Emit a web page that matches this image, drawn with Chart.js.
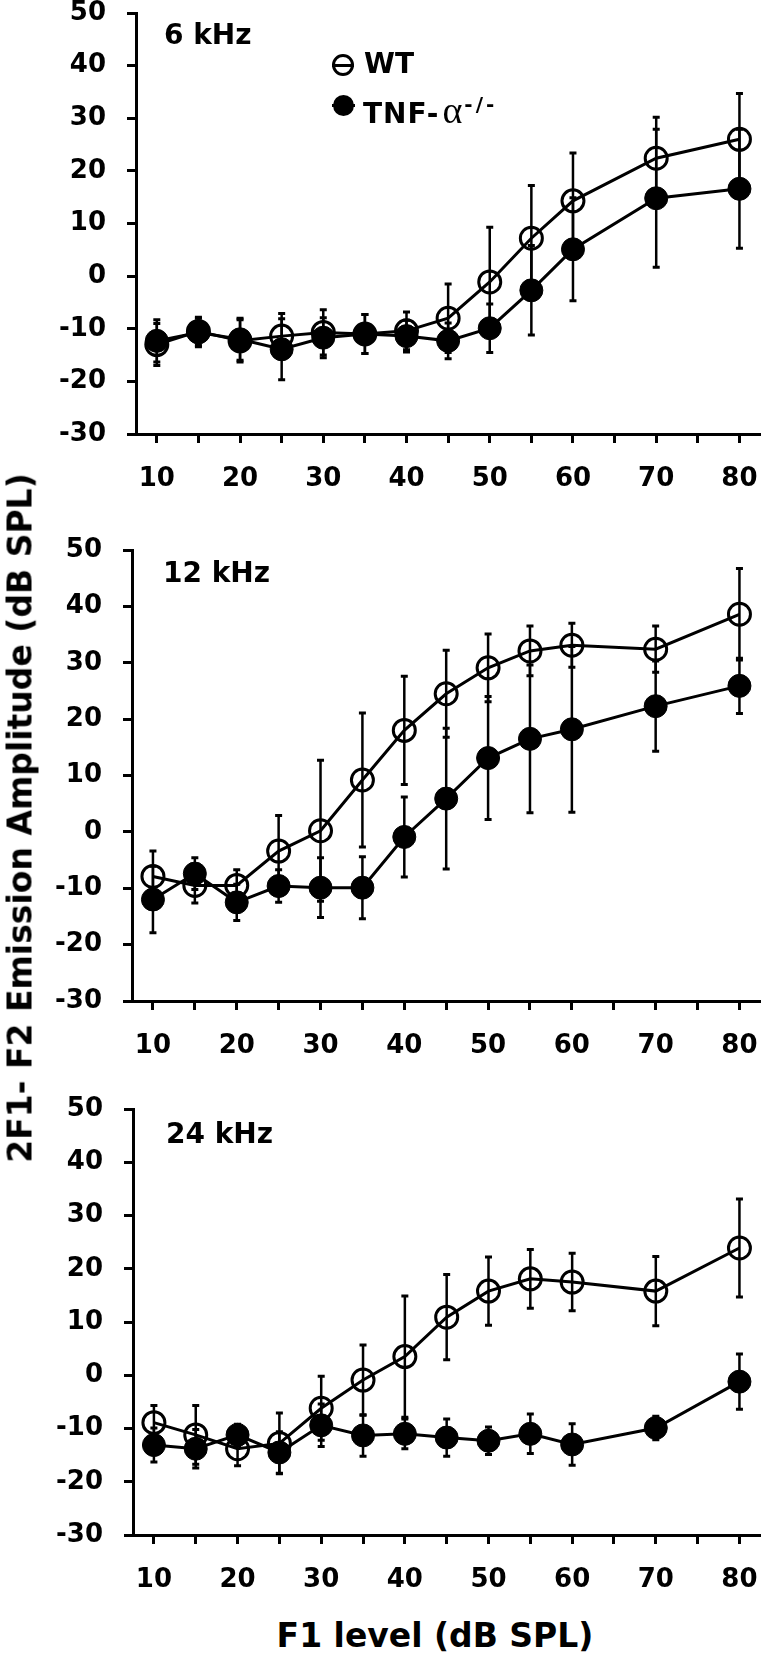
<!DOCTYPE html>
<html><head><meta charset="utf-8">
<script src="https://cdn.jsdelivr.net/npm/chart.js@4.4.1/dist/chart.umd.min.js"></script>
<style>
html,body{margin:0;padding:0;background:#fff;width:779px;height:1661px;overflow:hidden;position:relative;}
canvas{position:absolute;left:0;}
.t{position:absolute;font-family:'DejaVu Sans';font-weight:bold;color:#000;white-space:nowrap;line-height:1;}
.mk{position:absolute;box-sizing:border-box;border-radius:50%;}
.ln{position:absolute;background:#000;height:3px;}
</style></head><body>

<div class="t" style="left:164px;top:21px;font-size:28px">6 kHz</div>
<div class="t" style="left:163px;top:559px;font-size:28px">12 kHz</div>
<div class="t" style="left:166px;top:1120px;font-size:28px">24 kHz</div>

<div class="mk" style="left:332px;top:54px;width:22px;height:22px;border:3px solid #000;"></div>
<div class="ln" style="left:332px;top:64px;width:22px;"></div>
<div class="mk" style="left:333px;top:95px;width:21px;height:21px;background:#000;"></div>
<div class="ln" style="left:332px;top:104px;width:23px;"></div>
<div class="t" style="left:364px;top:50px;font-size:28px">WT</div>
<div class="t" style="left:363px;top:91px;font-size:28px;letter-spacing:1px">TNF-<span style="font-family:'Liberation Serif';font-weight:normal;font-size:38px;margin-left:3px;letter-spacing:0">α</span><span style="font-size:20px;letter-spacing:3px;position:relative;top:-12px;margin-left:2px">-/-</span></div>

<div class="t" style="left:20px;top:818px;font-size:33px;transform:translate(-50%,-50%) rotate(-90deg);">2F1- F2 Emission Amplitude (dB SPL)</div>
<div class="t" style="left:435px;top:1619px;font-size:33px;transform:translateX(-50%);">F1 level (dB SPL)</div>

<script>
// F1 level (dB SPL)
const levels = [10, 15, 20, 25, 30, 35, 40, 45, 50, 55, 60, 70, 80];
const xTicks = [10, 15, 20, 25, 30, 35, 40, 45, 50, 55, 60, 65, 70, 75, 80];
const yTicks = [-30, -20, -10, 0, 10, 20, 30, 40, 50];

// 6 kHz
const wt6     = [-13.0, -10.5, -12.3, -11.4, -10.7, -11.0, -10.4, -8.0, -1.1, 7.2, 14.3, 22.4, 26.0];
const wt6Err  = [4.0, 2.7, 4.0, 4.3, 4.3, 3.7, 3.6, 6.5, 10.4, 10.0, 9.1, 7.8, 8.7];
const tnf6    = [-12.3, -10.7, -12.0, -13.9, -11.7, -11.0, -11.4, -12.3, -9.9, -2.7, 5.1, 14.8, 16.6];
const tnf6Err = [4.0, 2.7, 4.0, 5.8, 3.8, 3.7, 3.0, 3.4, 4.6, 8.5, 9.8, 13.1, 11.3];

// 12 kHz
const wt12     = [-7.9, -9.5, -9.5, -3.4, 0.2, 9.2, 18.0, 24.5, 29.1, 32.1, 33.1, 32.4, 38.6];
const wt12Err  = [4.5, 3.1, 2.8, 6.3, 12.5, 11.9, 9.6, 7.7, 6.0, 4.4, 3.9, 4.1, 8.1];
const tnf12    = [-12.0, -7.4, -12.5, -9.6, -9.9, -9.9, -0.9, 5.9, 13.1, 16.5, 18.2, 22.3, 25.9];
const tnf12Err = [5.9, 2.8, 3.2, 2.9, 5.3, 5.5, 7.1, 12.5, 10.9, 13.1, 14.7, 8.0, 4.9];

// 24 kHz
const wt24     = [-8.9, -11.2, -13.8, -12.8, -6.2, -0.9, 3.5, 10.9, 15.8, 18.1, 17.5, 15.8, 23.9];
const wt24Err  = [3.2, 5.5, 3.2, 5.7, 6.0, 6.6, 11.4, 8.0, 6.4, 5.5, 5.4, 6.5, 9.2];
const tnf24    = [-13.1, -13.8, -11.2, -14.5, -9.4, -11.3, -11.0, -11.7, -12.3, -11.0, -13.0, -9.9, -1.2];
const tnf24Err = [3.2, 3.6, 2.0, 3.9, 4.0, 3.9, 2.8, 3.5, 2.6, 3.7, 3.9, 2.2, 5.2];

const panels = [
  {top: 13,   bottom: 434,  left: 136, wt: wt6,  wtErr: wt6Err,  tnf: tnf6,  tnfErr: tnf6Err},
  {top: 550,  bottom: 1001, left: 132, wt: wt12, wtErr: wt12Err, tnf: tnf12, tnfErr: tnf12Err},
  {top: 1109, bottom: 1535, left: 133, wt: wt24, wtErr: wt24Err, tnf: tnf24, tnfErr: tnf24Err}
];

const errPlugin = {
  id: 'errbars',
  beforeDatasetsDraw(chart) {
    const ctx = chart.ctx, xs = chart.scales.x, ys = chart.scales.y;
    ctx.save();
    ctx.strokeStyle = '#000';
    chart.data.datasets.forEach(ds => {
      ds.data.forEach((pt, i) => {
        const e = ds.err[i];
        const x = xs.getPixelForValue(pt.x);
        const y1 = ys.getPixelForValue(pt.y + e);
        const y2 = ys.getPixelForValue(pt.y - e);
        ctx.lineWidth = 2.5;
        ctx.beginPath(); ctx.moveTo(x, y1); ctx.lineTo(x, y2); ctx.stroke();
        ctx.lineWidth = 3;
        ctx.beginPath();
        ctx.moveTo(x - 3.5, y1); ctx.lineTo(x + 3.5, y1);
        ctx.moveTo(x - 3.5, y2); ctx.lineTo(x + 3.5, y2);
        ctx.stroke();
      });
    });
    ctx.restore();
  }
};

const tickFont = {family: 'DejaVu Sans', weight: 'bold', size: 26};

panels.forEach(p => {
  const pad = 40, xh = 70;
  const cv = document.createElement('canvas');
  cv.width = 779;
  cv.height = pad + (p.bottom - p.top) + xh;
  cv.style.top = (p.top - pad) + 'px';
  document.body.insertBefore(cv, document.body.firstChild);
  const axisCommon = {
    grid: {drawOnChartArea: false, drawTicks: true, tickLength: 9, tickWidth: 3, tickColor: '#000'},
    border: {display: true, color: '#000', width: 3}
  };
  new Chart(cv, {
    type: 'line',
    data: {
      datasets: [
        {label: 'WT', data: levels.map((x, i) => ({x, y: p.wt[i]})), err: p.wtErr,
         borderColor: '#000', borderWidth: 3, tension: 0,
         pointStyle: 'circle', pointRadius: 11, pointBorderWidth: 3,
         pointBackgroundColor: 'rgba(0,0,0,0)', pointBorderColor: '#000'},
        {label: 'TNF-α-/-', data: levels.map((x, i) => ({x, y: p.tnf[i]})), err: p.tnfErr,
         borderColor: '#000', borderWidth: 3, tension: 0,
         pointStyle: 'circle', pointRadius: 11.5, pointBorderWidth: 1,
         pointBackgroundColor: '#000', pointBorderColor: '#000'}
      ]
    },
    options: {
      responsive: false, animation: false,
      layout: {padding: {top: pad, right: 4, left: 0, bottom: 0}},
      plugins: {legend: {display: false}, tooltip: {enabled: false}},
      scales: {
        x: Object.assign({
          type: 'linear', min: 7.5, max: 82.5,
          afterBuildTicks: s => { s.ticks = xTicks.map(v => ({value: v})); },
          afterFit: s => { s.height = xh; },
          ticks: {font: tickFont, color: '#000', padding: 21, maxRotation: 0, autoSkip: false,
                  callback: v => (v % 10 === 0 ? String(v) : '')}
        }, axisCommon),
        y: Object.assign({
          type: 'linear', min: -30, max: 50,
          afterBuildTicks: s => { s.ticks = yTicks.map(v => ({value: v})); },
          afterFit: s => { s.width = p.left; },
          ticks: {font: tickFont, color: '#000', padding: 21}
        }, axisCommon)
      }
    },
    plugins: [errPlugin]
  });
});
</script>
</body></html>
